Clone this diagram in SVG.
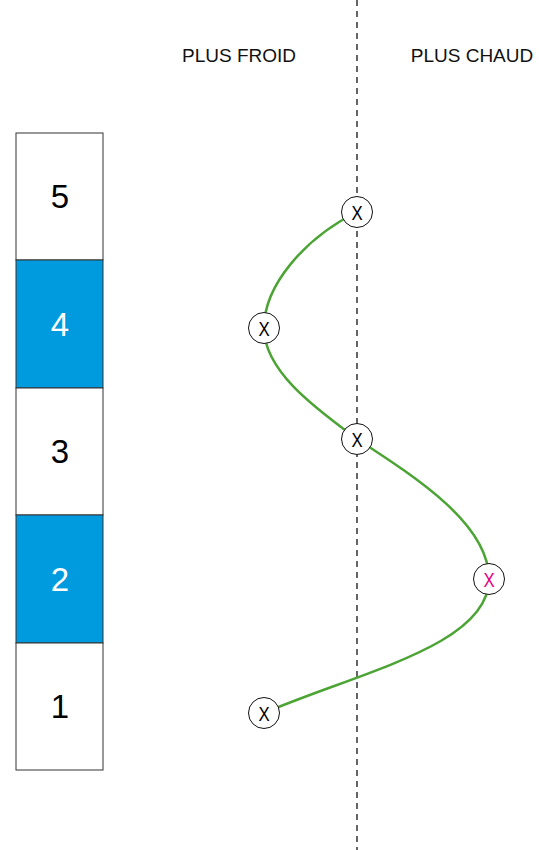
<svg xmlns="http://www.w3.org/2000/svg" width="539" height="850" viewBox="0 0 539 850">
<style>
.box{stroke:#333;stroke-width:1}
.w{fill:#fff}
.b{fill:#009bde}
.num{font-family:"Liberation Sans",Arial,sans-serif;font-size:33px;text-anchor:middle}
.hd{font-family:"Liberation Sans",Arial,sans-serif;font-size:19px;text-anchor:middle;fill:#111}
.nd{fill:#fff;stroke:#111;stroke-width:1}
.x{font-family:"Liberation Sans",Arial,sans-serif;font-size:21px;text-anchor:middle}
</style>
<rect width="539" height="850" fill="#fff"/>
<line x1="357" y1="0" x2="357" y2="850" stroke="#333" stroke-width="1.5" stroke-dasharray="6,5"/>
<text class="hd" x="239" y="62">PLUS FROID</text>
<text class="hd" x="472" y="62">PLUS CHAUD</text>
<g id="box5"><rect class="box w" x="16" y="133" width="87" height="127"/><text class="num" x="60" y="208" fill="#000">5</text></g>
<g id="box4"><rect class="box b" x="16" y="260" width="87" height="128"/><text class="num" x="60" y="336" fill="#fff">4</text></g>
<g id="box3"><rect class="box w" x="16" y="388" width="87" height="127"/><text class="num" x="60" y="463" fill="#000">3</text></g>
<g id="box2"><rect class="box b" x="16" y="515" width="87" height="128"/><text class="num" x="60" y="591" fill="#fff">2</text></g>
<g id="box1"><rect class="box w" x="16" y="643" width="87" height="127"/><text class="num" x="60" y="718" fill="#000">1</text></g>
<g id="connectors" fill="none" stroke="#4ca435" stroke-width="2.5">
<path d="M357,212 C305,238 264,285 264,328"/>
<path d="M264,328 C264,372 318,410 357,439"/>
<path d="M357,439 C420,480 489,525 489,579"/>
<path d="M489,579 C489,645 360,672 264,713"/>
</g>
<g id="n1"><circle class="nd" cx="357" cy="212" r="15.5"/><text class="x" transform="translate(357,219.5) scale(0.8,1)">X</text></g>
<g id="n2"><circle class="nd" cx="264" cy="328" r="15.5"/><text class="x" transform="translate(264,335.5) scale(0.8,1)">X</text></g>
<g id="n3"><circle class="nd" cx="357" cy="439" r="15.5"/><text class="x" transform="translate(357,446.5) scale(0.8,1)">X</text></g>
<g id="n4"><circle class="nd" cx="489" cy="579" r="15.5"/><text class="x" transform="translate(489,586.5) scale(0.8,1)" fill="#e6007e">X</text></g>
<g id="n5"><circle class="nd" cx="264" cy="713" r="15.5"/><text class="x" transform="translate(264,720.5) scale(0.8,1)">X</text></g>
</svg>
